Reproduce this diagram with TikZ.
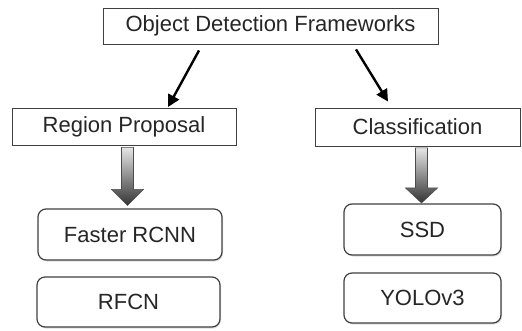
\documentclass[tikz,border=0pt]{standalone}
\usepackage{fontspec}
\setmainfont{Liberation Sans}
\usetikzlibrary{arrows.meta,shadows}
\begin{document}
\begin{tikzpicture}[x=1pt,y=-1pt,
  sqbox/.style={draw=black!75,line width=0.9pt,fill=white,inner sep=0pt,
    font=\fontsize{22}{26}\selectfont,text=black!85},
  rbox/.style={draw=black!75,line width=1.2pt,fill=white,rounded corners=8pt,inner sep=0pt,
    font=\fontsize{22}{26}\selectfont,text=black!85,
    drop shadow={shadow xshift=1pt,shadow yshift=-1.5pt,opacity=0.25}},
  arr/.style={line width=2.4pt,black,-{Triangle[length=12pt,width=12pt]}},
  blk/.style={draw=black!70,line width=0.6pt,top color=black!10,bottom color=black!80}
]
\useasboundingbox (0,0) rectangle (522,331);
\node[sqbox,minimum width=335pt,minimum height=36pt] (top) at (270.5,26) {Object Detection Frameworks};
\node[sqbox,minimum width=224pt,minimum height=37pt] (reg) at (124,127) {Region Proposal};
\node[sqbox,minimum width=205pt,minimum height=38pt] (cls) at (417.5,127) {Classification};
\node[rbox,minimum width=184pt,minimum height=51pt] (frc) at (130,234.5) {Faster RCNN};
\node[rbox,minimum width=183pt,minimum height=50pt] (rfcn) at (128.5,302) {RFCN};
\node[rbox,minimum width=157pt,minimum height=51pt] (ssd) at (422.5,229.5) {SSD};
\node[rbox,minimum width=157pt,minimum height=50pt] (yolo) at (422.5,298) {YOLOv3};
\draw[arr] ([shift={(-71.5,6)}]top.south) -- ([shift={(44,-1)}]reg.north);
\draw[arr] ([shift={(85.5,5)}]top.south) -- ([shift={(-29.5,-6)}]cls.north);
% block arrows
\draw[blk] ([shift={(-6,1.5)}]reg.south -| frc.north) ++(-2.5,0) -- ++(12,0) -- ++(0,42) -- ++(10,0) -- ++(-16,16) -- ++(-16,-16) -- ++(10,0) -- cycle;
\draw[blk] ([shift={(-7,1.5)}]cls.south -| ssd.north) ++(0,0) -- ++(12,0) -- ++(0,40) -- ++(10,0) -- ++(-16,15) -- ++(-16,-15) -- ++(10,0) -- cycle;
\end{tikzpicture}
\end{document}
